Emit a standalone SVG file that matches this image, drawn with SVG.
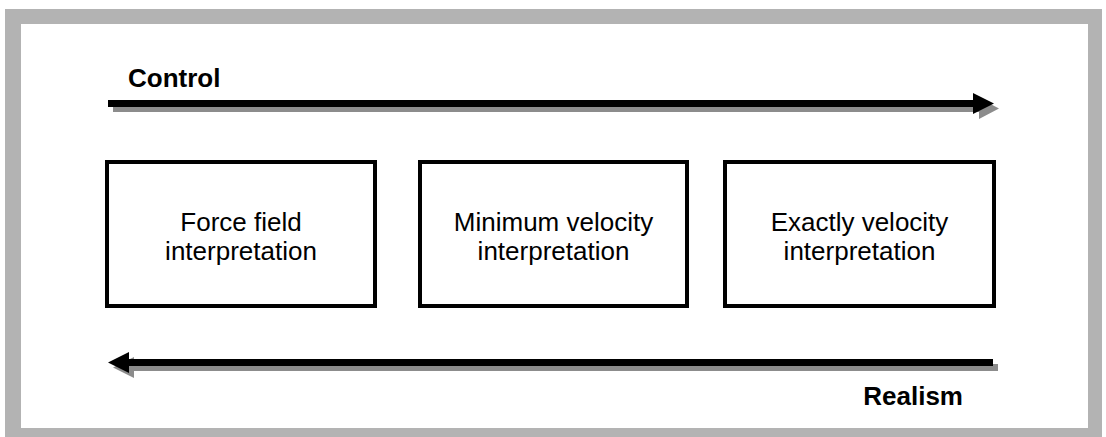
<svg xmlns="http://www.w3.org/2000/svg" width="1106" height="437" viewBox="0 0 1106 437">
  <style>
    .frame { fill: #b3b3b3; }
    .inner { fill: #ffffff; }
    .box { fill: #ffffff; stroke: #000000; stroke-width: 4; }
    .lbl { font-family: "Liberation Sans", Arial, sans-serif; font-size: 26px; fill: #000000; text-anchor: middle; }
    .axis { font-family: "Liberation Sans", Arial, sans-serif; font-size: 26px; font-weight: bold; fill: #000000; }
    .shadow { fill: #8c8c8c; }
    .arrow { fill: #000000; }
  </style>
  <rect class="frame" x="5" y="9" width="1097" height="428"/>
  <rect class="inner" x="21" y="24" width="1067" height="404"/>

  <g id="connectors">
    <g id="control-arrow">
      <path class="shadow" d="M113,105 H979 V98 L999,108.5 L979,119 V112 H113 Z"/>
      <path class="arrow" d="M108,100 H973 V93 L994,103.5 L973,114 V107 H108 Z"/>
    </g>
    <g id="realism-arrow">
      <path class="shadow" d="M998,364 H134 V357 L113,367.5 L134,378 V371 H998 Z"/>
      <path class="arrow" d="M993,359 H129 V352 L108,362.5 L129,373 V366 H993 Z"/>
    </g>
  </g>

  <text class="axis" x="128" y="87">Control</text>
  <text class="axis" x="963" y="405" text-anchor="end">Realism</text>

  <g id="node-force">
    <rect class="box" x="107" y="162" width="268" height="144"/>
    <text class="lbl" x="241" y="231">Force field</text>
    <text class="lbl" x="241" y="260">interpretation</text>
  </g>
  <g id="node-minimum">
    <rect class="box" x="420" y="162" width="267" height="144"/>
    <text class="lbl" x="553.5" y="231">Minimum velocity</text>
    <text class="lbl" x="553.5" y="260">interpretation</text>
  </g>
  <g id="node-exactly">
    <rect class="box" x="725" y="162" width="269" height="144"/>
    <text class="lbl" x="859.5" y="231">Exactly velocity</text>
    <text class="lbl" x="859.5" y="260">interpretation</text>
  </g>
</svg>
